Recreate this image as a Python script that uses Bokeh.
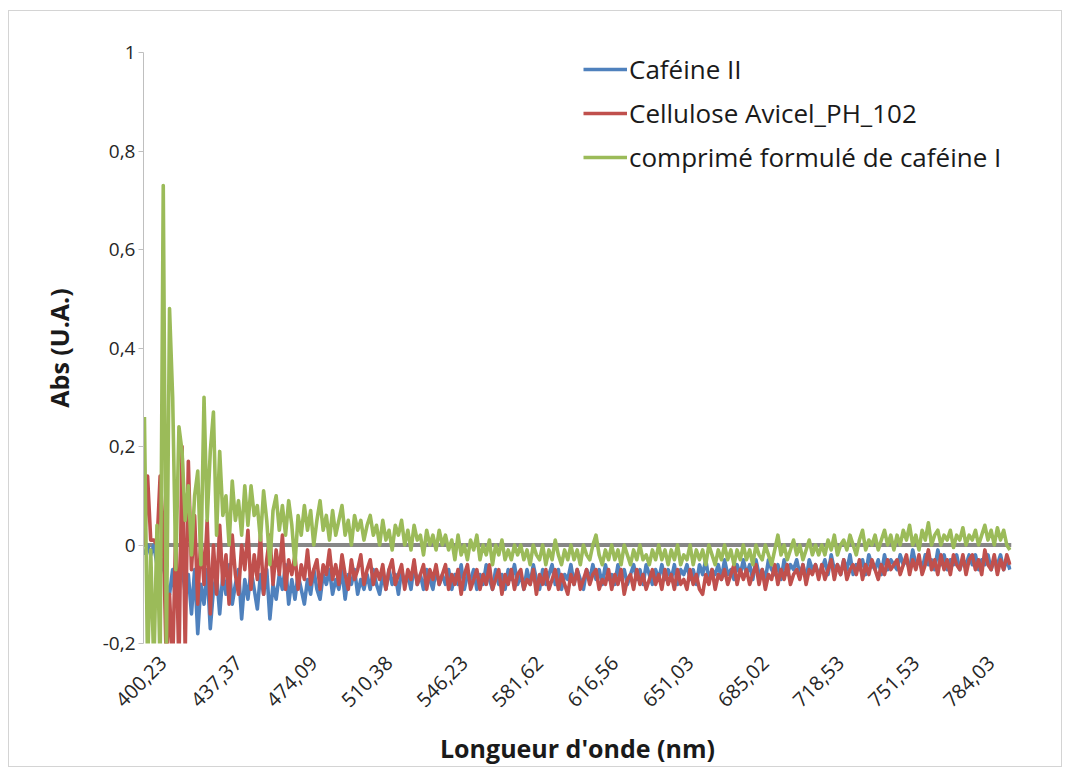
import math
from bokeh.plotting import figure
from bokeh.models import Span, Legend, LegendItem, FixedTicker, Range1d, LinearAxis
from bokeh.embed import file_html
from bokeh.resources import INLINE

# ---- data (category axis: index of each measured wavelength) ----
tick_labels = ["400,23", "437,37", "474,09", "510,38", "546,23", "581,62",
               "616,56", "651,03", "685,02", "718,53", "751,53", "784,03"]
points_per_label = 24

cafeine_II = [
    -0.02, 0.00, -0.02, 0.00, -0.04, -0.06, -0.03, -0.08, -0.10, -0.05, -0.12, -0.07, -0.04, -0.10, -0.06, -0.14, -0.05, -0.18, -0.08, -0.12, -0.05, -0.17, -0.09, -0.06,
    -0.14, -0.06, -0.10, -0.04, -0.12, -0.08, -0.05, -0.15, -0.07, -0.11, -0.05, -0.09, -0.13, -0.06, -0.10, -0.05, -0.15, -0.08, -0.11, -0.06, -0.09, -0.04, -0.12, -0.07,
    -0.11, -0.06, -0.09, -0.12, -0.07, -0.10, -0.05, -0.09, -0.11, -0.06, -0.08, -0.05, -0.10, -0.07, -0.09, -0.05, -0.11, -0.06, -0.08, -0.05, -0.10, -0.07, -0.09, -0.06,
    -0.09, -0.05, -0.08, -0.10, -0.06, -0.09, -0.05, -0.08, -0.06, -0.10, -0.05, -0.08, -0.06, -0.09, -0.04, -0.08, -0.06, -0.09, -0.05, -0.07, -0.09, -0.05, -0.08, -0.06,
    -0.08, -0.05, -0.09, -0.06, -0.08, -0.04, -0.09, -0.06, -0.07, -0.05, -0.09, -0.06, -0.08, -0.04, -0.07, -0.09, -0.05, -0.08, -0.06, -0.09, -0.05, -0.07, -0.04, -0.08,
    -0.06, -0.09, -0.05, -0.08, -0.04, -0.07, -0.09, -0.05, -0.08, -0.06, -0.04, -0.08, -0.05, -0.09, -0.06, -0.07, -0.04, -0.08, -0.05, -0.07, -0.09, -0.05, -0.07, -0.04,
    -0.07, -0.05, -0.08, -0.04, -0.07, -0.06, -0.08, -0.04, -0.07, -0.05, -0.08, -0.06, -0.04, -0.07, -0.05, -0.08, -0.04, -0.06, -0.08, -0.05, -0.07, -0.04, -0.07, -0.05,
    -0.07, -0.04, -0.08, -0.05, -0.06, -0.04, -0.07, -0.05, -0.08, -0.04, -0.06, -0.03, -0.07, -0.05, -0.06, -0.04, -0.07, -0.03, -0.06, -0.05, -0.07, -0.04, -0.06, -0.03,
    -0.06, -0.04, -0.07, -0.03, -0.06, -0.05, -0.07, -0.03, -0.05, -0.06, -0.04, -0.07, -0.03, -0.06, -0.04, -0.05, -0.03, -0.06, -0.04, -0.07, -0.03, -0.05, -0.04, -0.06,
    -0.05, -0.03, -0.06, -0.02, -0.05, -0.04, -0.06, -0.03, -0.05, -0.02, -0.06, -0.04, -0.05, -0.03, -0.06, -0.02, -0.04, -0.05, -0.03, -0.06, -0.02, -0.05, -0.03, -0.04,
    -0.05, -0.02, -0.04, -0.03, -0.05, -0.01, -0.04, -0.03, -0.05, -0.02, -0.04, -0.03, -0.05, -0.01, -0.04, -0.02, -0.05, -0.03, -0.04, -0.02, -0.05, -0.03, -0.04, -0.02,
    -0.04, -0.02, -0.05, -0.03, -0.04, -0.02, -0.05, -0.03, -0.04, -0.02, -0.05, -0.03, -0.05,
]

cellulose_avicel = [
    0.00, 0.14, 0.01, 0.01, 0.00, 0.14, 0.03, -0.25, -0.10, -0.25, 0.04, -0.25, 0.20, -0.22, 0.17, -0.05, 0.06, -0.12, 0.02, -0.08, 0.05, -0.14, 0.00, -0.10,
    0.04, -0.08, -0.02, -0.12, 0.02, -0.06, -0.10, 0.00, -0.05, 0.03, -0.09, -0.02, -0.07, 0.02, -0.10, -0.03, 0.02, -0.08, -0.01, -0.06, 0.02, -0.09, -0.03, -0.06,
    -0.02, -0.09, -0.04, -0.07, -0.01, -0.08, -0.05, -0.03, -0.09, -0.04, -0.06, -0.01, -0.07, -0.04, -0.08, -0.02, -0.06, -0.09, -0.03, -0.07, -0.05, -0.02, -0.08, -0.05,
    -0.03, -0.08, -0.05, -0.07, -0.04, -0.09, -0.05, -0.03, -0.08, -0.06, -0.04, -0.09, -0.05, -0.07, -0.03, -0.08, -0.06, -0.04, -0.09, -0.05, -0.07, -0.04, -0.08, -0.06,
    -0.04, -0.09, -0.06, -0.08, -0.05, -0.10, -0.06, -0.04, -0.09, -0.07, -0.05, -0.09, -0.06, -0.08, -0.04, -0.09, -0.07, -0.05, -0.10, -0.06, -0.08, -0.05, -0.09, -0.06,
    -0.05, -0.09, -0.07, -0.08, -0.05, -0.10, -0.06, -0.08, -0.05, -0.09, -0.07, -0.05, -0.09, -0.06, -0.08, -0.10, -0.06, -0.08, -0.05, -0.09, -0.07, -0.05, -0.08, -0.06,
    -0.05, -0.09, -0.07, -0.08, -0.05, -0.09, -0.06, -0.08, -0.05, -0.10, -0.07, -0.06, -0.09, -0.05, -0.08, -0.06, -0.09, -0.07, -0.05, -0.08, -0.06, -0.09, -0.05, -0.08,
    -0.06, -0.09, -0.05, -0.08, -0.07, -0.09, -0.05, -0.08, -0.06, -0.09, -0.10, -0.06, -0.08, -0.05, -0.09, -0.06, -0.07, -0.05, -0.08, -0.06, -0.04, -0.08, -0.05, -0.07,
    -0.05, -0.08, -0.06, -0.04, -0.08, -0.05, -0.09, -0.06, -0.07, -0.04, -0.08, -0.05, -0.07, -0.04, -0.08, -0.06, -0.05, -0.07, -0.04, -0.08, -0.05, -0.06, -0.04, -0.07,
    -0.04, -0.07, -0.05, -0.03, -0.07, -0.04, -0.06, -0.03, -0.07, -0.05, -0.04, -0.06, -0.03, -0.07, -0.04, -0.06, -0.03, -0.05, -0.07, -0.04, -0.06, -0.03, -0.05, -0.04,
    -0.03, -0.06, -0.04, -0.02, -0.06, -0.03, -0.05, -0.02, -0.06, -0.04, -0.01, -0.05, -0.03, -0.06, -0.02, -0.05, -0.03, -0.06, -0.02, -0.04, -0.05, -0.02, -0.06, -0.03,
    -0.02, -0.05, -0.03, -0.06, -0.01, -0.04, -0.05, -0.02, -0.06, -0.03, -0.05, -0.02, -0.04,
]

comprime_cafeine_I = [
    0.26, -0.25, -0.01, -0.25, 0.04, -0.25, 0.73, -0.22, 0.48, 0.30, -0.05, 0.24, 0.19, 0.05, 0.12, -0.02, 0.10, 0.15, -0.04, 0.30, 0.05, 0.19, 0.27, 0.02,
    0.19, 0.06, 0.10, 0.00, 0.13, 0.05, 0.09, 0.02, 0.12, 0.04, 0.12, 0.06, 0.08, 0.01, 0.11, 0.05, -0.04, 0.07, 0.10, 0.03, 0.08, 0.02, 0.09, 0.04,
    -0.04, 0.06, 0.02, 0.08, 0.03, 0.07, 0.00, 0.05, 0.09, 0.03, 0.06, 0.01, 0.07, 0.02, 0.05, 0.08, 0.02, 0.05, 0.00, 0.06, 0.03, 0.05, 0.01, 0.04,
    0.06, 0.02, 0.04, 0.00, 0.05, 0.01, 0.03, -0.01, 0.04, 0.02, 0.05, 0.00, 0.03, -0.01, 0.04, 0.01, 0.02, -0.02, 0.03, 0.00, 0.02, -0.01, 0.03, 0.00,
    0.02, -0.01, 0.01, -0.03, 0.02, -0.02, 0.00, -0.03, 0.01, -0.01, 0.02, -0.03, 0.00, -0.02, 0.01, -0.04, 0.00, -0.02, 0.01, -0.03, -0.01, -0.03, 0.00, -0.02,
    0.00, -0.03, -0.01, -0.04, 0.00, -0.02, -0.03, 0.00, -0.04, -0.01, -0.03, 0.01, -0.02, -0.04, -0.01, -0.03, 0.00, -0.03, -0.01, -0.04, 0.00, -0.02, -0.03, 0.00,
    0.02, -0.02, -0.04, -0.01, -0.03, 0.00, -0.03, -0.01, -0.04, 0.00, -0.02, -0.04, -0.01, -0.03, 0.00, -0.03, -0.02, -0.04, -0.01, -0.03, 0.00, -0.03, -0.01, -0.04,
    -0.01, -0.03, 0.00, -0.04, -0.02, -0.03, 0.00, -0.04, -0.01, -0.03, -0.01, -0.04, 0.00, -0.02, -0.04, -0.01, -0.03, 0.00, -0.03, -0.01, -0.04, -0.01, -0.03, 0.00,
    -0.03, -0.01, -0.04, 0.00, -0.02, -0.03, 0.00, -0.02, -0.04, -0.01, 0.02, -0.02, 0.00, -0.03, -0.01, 0.01, -0.02, 0.00, -0.03, -0.01, 0.01, -0.02, 0.00, -0.02,
    0.00, -0.02, 0.01, -0.01, 0.02, -0.02, 0.00, 0.01, -0.01, 0.02, 0.00, -0.02, 0.01, 0.03, -0.01, 0.01, 0.00, 0.02, -0.01, 0.01, 0.03, 0.00, 0.02, -0.01,
    0.02, 0.00, 0.03, 0.01, 0.04, 0.00, 0.02, -0.01, 0.03, 0.01, 0.045, 0.00, 0.02, 0.03, 0.00, 0.02, 0.01, 0.03, -0.005, 0.02, 0.01, 0.035, 0.00, 0.02,
    0.01, 0.03, 0.00, 0.02, 0.04, 0.01, 0.03, 0.00, 0.035, 0.01, 0.03, 0.00, -0.01,
]

series_names = ["Caféine II", "Cellulose Avicel_PH_102", "comprimé formulé de caféine I"]
series_colors = ["#4F81BD", "#C0504D", "#9BBB59"]

FONT = "Open Sans"

n_last = (len(tick_labels) - 1) * points_per_label + points_per_label // 2
x_start, x_end = -0.3, n_last + 0.5
label_shift = 6  # Excel draws rotated category labels a little right of their tick

p = figure(width=1054, height=757, output_backend="svg", toolbar_location=None,
           x_range=Range1d(x_start, x_end), y_range=Range1d(-0.2, 1.0),
           min_border_left=134, min_border_right=52, min_border_top=41,
           min_border_bottom=125)
p.styles = {"border": "1px solid #d4d4d4", "margin-left": "8px", "margin-top": "10px"}
p.outline_line_color = None
p.xgrid.visible = False
p.ygrid.visible = False
p.background_fill_color = "white"
p.border_fill_color = "white"

# horizontal axis line crossing at 0
p.add_layout(Span(location=0, dimension="width", line_color="#878787",
                  line_width=4, level="underlay"))

renderers = []
for ys, col in zip([cafeine_II, cellulose_avicel, comprime_cafeine_I], series_colors):
    r = p.line(list(range(len(ys))), ys, line_color=col, line_width=3.6, line_join="round")
    renderers.append(r)

# y axis
yt = [-0.2, 0.0, 0.2, 0.4, 0.6, 0.8, 1.0]
p.yaxis.ticker = FixedTicker(ticks=yt)
p.yaxis.major_label_overrides = {v: ("%g" % v).replace(".", ",") for v in yt}
p.yaxis.axis_line_color = "#bfbfbf"
p.yaxis.major_tick_line_color = "#bfbfbf"
p.yaxis.major_tick_out = 5
p.yaxis.major_tick_in = 0
p.yaxis.minor_tick_line_color = None
p.yaxis.major_label_text_font = FONT
p.yaxis.major_label_text_font_size = "19px"
p.yaxis.major_label_text_color = "#262626"
p.yaxis.major_label_standoff = 3
p.yaxis.axis_label = "Abs (U.A.)"
p.yaxis.axis_label_text_font = FONT
p.yaxis.axis_label_text_font_style = "bold"
p.yaxis.axis_label_text_font_size = "25px"
p.yaxis.axis_label_text_color = "#1a1a1a"
p.yaxis.axis_label_standoff = 24

# x axis (category-like); labels drawn on an axis whose range is shifted
p.xaxis.visible = False
p.extra_x_ranges = {"labels": Range1d(x_start - label_shift, x_end - label_shift)}
xt = [i * points_per_label for i in range(len(tick_labels))]
xax = LinearAxis(x_range_name="labels")
xax.ticker = FixedTicker(ticks=xt)
xax.major_label_overrides = {t: lab for t, lab in zip(xt, tick_labels)}
xax.major_label_orientation = math.pi / 4
xax.axis_line_color = None
xax.major_tick_line_color = None
xax.minor_tick_line_color = None
xax.major_label_text_font = FONT
xax.major_label_text_font_size = "20px"
xax.major_label_text_color = "#262626"
xax.major_label_standoff = 10
xax.axis_label = "Longueur d'onde (nm)"
xax.axis_label_text_font = FONT
xax.axis_label_text_font_style = "bold"
xax.axis_label_text_font_size = "25px"
xax.axis_label_text_color = "#1a1a1a"
xax.axis_label_standoff = 15
p.add_layout(xax, "below")

legend = Legend(items=[LegendItem(label=nm, renderers=[r]) for nm, r in zip(series_names, renderers)],
                location=(440, 468), border_line_color=None, background_fill_alpha=0,
                label_text_font=FONT, label_text_font_size="26px", label_text_color="#1a1a1a",
                glyph_width=44, glyph_height=22, label_height=22, spacing=8,
                padding=0, margin=0, label_standoff=2)
p.add_layout(legend)

open("out.html", "w").write(file_html(p, INLINE))
